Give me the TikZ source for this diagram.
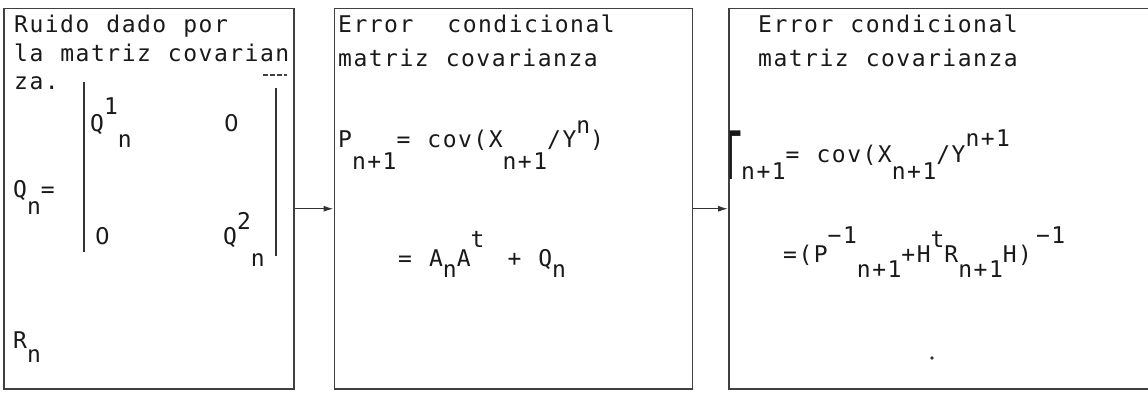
\documentclass[tikz,border=0pt]{standalone}
\usepackage{fontspec}
\setmainfont{DejaVu Sans Mono}[LetterSpace=6.5, WordSpace=1.11]
\newfontfamily\zerofont{DejaVu Sans}
\usepackage{graphicx}
\usetikzlibrary{positioning, arrows.meta}

\newcommand{\lowidx}[2][14pt]{\raisebox{-#1}{#2}}
\newcommand{\highidx}[2][17pt]{\raisebox{#1}{#2}}

\begin{document}
\begin{tikzpicture}[
        x=1pt, y=-1pt,
        every node/.style={font=\fontsize{23}{27}\selectfont},
        panel/.style={draw=black!75, rectangle, line width=1.5pt, inner sep=0pt, minimum height=380pt},
        txt/.style={anchor=base west, inner sep=0pt, text=black!90},
        mbar/.style={draw=black!80, line width=2.2pt},
        arrow/.style={-{Latex[length=10pt, width=6pt]}, line width=1.2pt, draw=black!80}
    ]
    \useasboundingbox (0,0) rectangle (1148,395);

    % 1. Noise box
    \node[panel, minimum width=290pt, anchor=north west] (noise) at (3,8) {};
    \node[txt] (noisea) at (14,33) {Ruido dado por};
    \node[txt] (noiseb) at (14,62) {la matriz covarian};
    \draw[black!75, line width=1.3pt, dash pattern=on 5pt off 2pt] (263,75) -- (287,75);
    \node[txt] (noisec) at (14,90) {za.};
    \node[txt] (qn) at (13,198) {Q\lowidx[17pt]{n}=};
    \draw[mbar] (84,82) -- (84,252);
    \draw[mbar] (276,88) -- (276,256);
    \node[txt] (qa) at (90,132) {Q\highidx[17pt]{1}\lowidx[16pt]{n}};
    \node[txt] (qb) at (224,132) {\zerofont 0};
    \node[txt] (qc) at (95,245) {\zerofont 0};
    \node[txt] (qd) at (223,245) {Q\highidx[15pt]{2}\lowidx[22pt]{n}};
    \node[txt] (rn) at (13,348) {R\lowidx[14pt]{n}};

    % 2. Conditional error box
    \node[panel, minimum width=358pt] (cond) [right=39pt of noise] {};
    \node[txt] (conda) at (338,33) {Error\ \ condicional};
    \node[txt] (condb) at (338,67) {matriz covarianza};
    \node[txt] (pcov) at (338,148) {P\lowidx[22pt]{n+1}= cov(X\lowidx[22pt]{n+1}/Y\highidx[14pt]{n})};
    \node[txt] (pexp) at (398,267) {= A\lowidx[10pt]{n}A\highidx[20pt]{t}\hspace{6pt} + Q\lowidx[10pt]{n}};

    % 3. Filtered error box
    \node[panel, minimum width=420pt] (filt) [right=35pt of cond] {};
    \node[txt] (filta) at (758,33) {Error condicional};
    \node[txt] (filtb) at (758,67) {matriz covarianza};
    \node[txt] (gcov) at (727,163) {\makebox[0pt][l]{\raisebox{-17pt}{\scalebox{1.05}[2.9]{Γ}}}\hspace{14pt}\lowidx[17pt]{n+1}= cov(X\lowidx[17pt]{n+1}/Y\highidx[16pt]{n+1}};
    \node[txt] (gexp) at (783,262) {=(P\highidx[19pt]{−1}\lowidx[15pt]{n+1}+H\highidx[15pt]{t}R\lowidx[15pt]{n+1}H)\hspace{4pt}\highidx[19pt]{−1}};
    \fill[black!80] (932,358) circle (1.8pt);

    % Arrows between boxes
    \draw[arrow] ([yshift=-10pt]noise.east) -- ([yshift=-10pt]cond.west);
    \draw[arrow] ([yshift=-10pt]cond.east) -- ([yshift=-10pt]cond.east -| filt.west);

\end{tikzpicture}
\end{document}
